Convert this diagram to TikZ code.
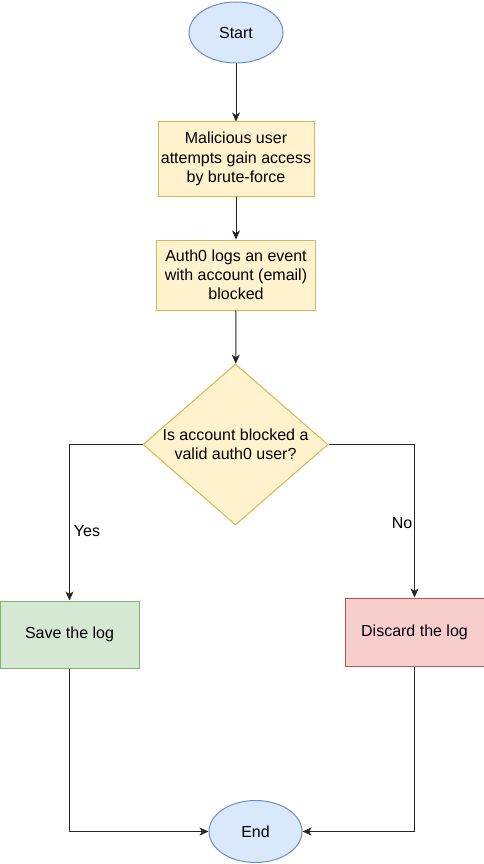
\documentclass[tikz,border=0pt]{standalone}
\usepackage{fontspec}
\setmainfont{Liberation Sans}
\usetikzlibrary{shapes.geometric,arrows.meta}
\definecolor{bluefill}{HTML}{DAE8FC}\definecolor{bluedraw}{HTML}{6C8EBF}
\definecolor{yelfill}{HTML}{FFF2CC}\definecolor{yeldraw}{HTML}{D6B656}
\definecolor{grnfill}{HTML}{D5E8D4}\definecolor{grndraw}{HTML}{82B366}
\definecolor{redfill}{HTML}{F8CECC}\definecolor{reddraw}{HTML}{B85450}
\tikzset{
  base/.style={font=\fontsize{16pt}{19.2pt}\selectfont, align=center, inner sep=0pt, line width=1pt},
  term/.style={base, ellipse, fill=bluefill, draw=bluedraw},
  procbox/.style={base, rectangle, fill=yelfill, draw=yeldraw},
  decide/.style={base, diamond, fill=yelfill, draw=yeldraw},
  okbox/.style={base, rectangle, fill=grnfill, draw=grndraw},
  badbox/.style={base, rectangle, fill=redfill, draw=reddraw},
  conn/.style={draw=black!85, line width=1pt, -{Stealth[length=9pt,width=8pt,inset=2.5pt]}},
  lbl/.style={font=\fontsize{16pt}{19.2pt}\selectfont, inner sep=0pt, align=center}
}
\begin{document}
\begin{tikzpicture}[x=1pt,y=-1pt]
\useasboundingbox (0,0) rectangle (484,864);
\node[term, minimum width=94pt, minimum height=61pt] (start) at (236,32.5) {Start};
\node[procbox, minimum width=156pt, minimum height=74pt] (b1) at (236,159) {Malicious user\\attempts gain access\\by brute-force};
\node[procbox, minimum width=159pt, minimum height=70pt] (b2) at (236,275) {Auth0 logs an event\\with account (email)\\blocked};
\node[decide, minimum width=185pt, minimum height=161pt] (d) at (235.5,444.5) {};
\node[lbl] (dtext) at (d.center) {Is account blocked a\\valid auth0 user?};
\node[okbox, minimum width=139pt, minimum height=67pt] (save) at (69.5,634.5) {Save the log};
\node[badbox, minimum width=139pt, minimum height=68pt] (disc) at (414.5,632) {Discard the log};
\node[term, minimum width=93pt, minimum height=62pt] (end) at (255.5,831.5) {End};
\draw[conn] (start) -- (b1);
\draw[conn] (b1) -- (b2);
\draw[conn] (b2) -- (d);
\draw[conn] (d.west) -| (save.north);
\draw[conn] (d.east) -| (disc.north);
\draw[conn] (save.south) |- (end.west);
\draw[conn] (disc.south) |- (end.east);
\node[lbl] (yes) at (87,531) {Yes};
\node[lbl] (no) at (402,523) {No};
\end{tikzpicture}
\end{document}
